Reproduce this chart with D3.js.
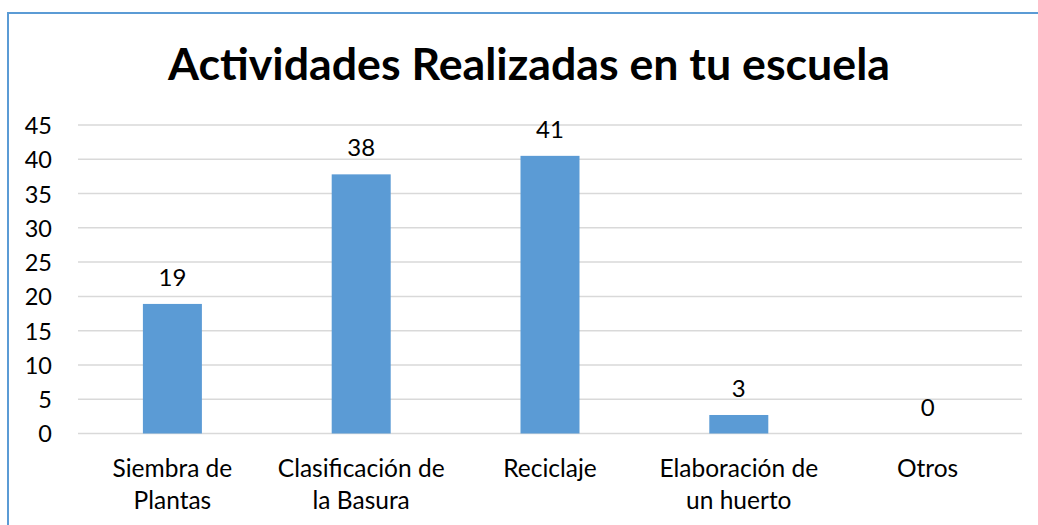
<!DOCTYPE html>
<html>
<head>
<meta charset="utf-8">
<script src="https://cdn.jsdelivr.net/npm/d3@7"></script>
<style>
  body { margin: 0; background: #fff; }
  svg { display: block; font-family: Lato, "Open Sans", sans-serif; }
</style>
</head>
<body>
<div id="chart"></div>
<script>
// data
const categories = [
  ["Siembra de", "Plantas"],
  ["Clasificación de", "la Basura"],
  ["Reciclaje"],
  ["Elaboración de", "un huerto"],
  ["Otros"]
];
const values = [18.9, 37.8, 40.5, 2.7, 0];
const yTicks = [0, 5, 10, 15, 20, 25, 30, 35, 40, 45];
const title = "Actividades Realizadas en tu escuela";

const width = 1038;
const height = 525;
const margin = { top: 125, right: 16, bottom: 91.5, left: 78 };

const svg = d3.select('#chart').append('svg')
    .attr('width', width)
    .attr('height', height);

// outer frame (right and bottom edges run past the picture)
svg.append('path')
    .attr('d', `M8,${height + 5} L8,13 L${width + 5},13`)
    .attr('fill', 'none')
    .attr('stroke', '#5b9bd5')
    .attr('stroke-width', 2);

svg.append('text')
    .attr('x', 529)
    .attr('y', 80)
    .attr('text-anchor', 'middle')
    .style('font-weight', 'bold')
    .style('font-size', '44.7px')
    .attr('fill', '#000')
    .text(title);

const x = d3.scaleBand()
    .domain(d3.range(categories.length))
    .range([margin.left, width - margin.right])
    .paddingInner(0.6875)
    .paddingOuter(0.34375);

const y = d3.scaleLinear()
    .domain([0, 45])
    .range([height - margin.bottom, margin.top]);

// gridlines
svg.append('g')
    .selectAll('line')
    .data(yTicks)
    .join('line')
    .attr('x1', margin.left)
    .attr('x2', width - margin.right)
    .attr('y1', d => y(d))
    .attr('y2', d => y(d))
    .attr('stroke', '#d9d9d9')
    .attr('stroke-width', 1.5);

// y axis labels
const yAxis = svg.append('g')
    .attr('transform', `translate(${margin.left - 26},0)`)
    .call(d3.axisLeft(y).tickValues(yTicks).tickSize(0).tickPadding(0));
yAxis.select('.domain').remove();
yAxis.selectAll('text')
    .style('font-family', 'Lato, "Open Sans", sans-serif')
    .style('font-size', '23.5px')
    .attr('fill', '#000')
    .attr('dy', '0.36em');

// bars
svg.append('g')
    .selectAll('rect')
    .data(values)
    .join('rect')
    .attr('x', (d, i) => x(i))
    .attr('y', d => y(d))
    .attr('width', x.bandwidth())
    .attr('height', d => y(0) - y(d))
    .attr('fill', '#5b9bd5');

// value labels
svg.append('g')
    .selectAll('text')
    .data(values)
    .join('text')
    .attr('x', (d, i) => x(i) + x.bandwidth() / 2)
    .attr('y', d => y(d) - 18)
    .attr('text-anchor', 'middle')
    .style('font-size', '24px')
    .attr('fill', '#000')
    .text(d => d3.format('.0f')(d));

// category labels
const cat = svg.append('g')
    .selectAll('text')
    .data(categories)
    .join('text')
    .attr('text-anchor', 'middle')
    .style('font-size', '24.5px')
    .attr('fill', '#000');

cat.selectAll('tspan')
    .data((d, i) => d.map(line => ({ line, i })))
    .join('tspan')
    .attr('x', d => x(d.i) + x.bandwidth() / 2)
    .attr('y', (d, j) => y(0) + 43.5 + j * 32)
    .text(d => d.line);
</script>
</body>
</html>
